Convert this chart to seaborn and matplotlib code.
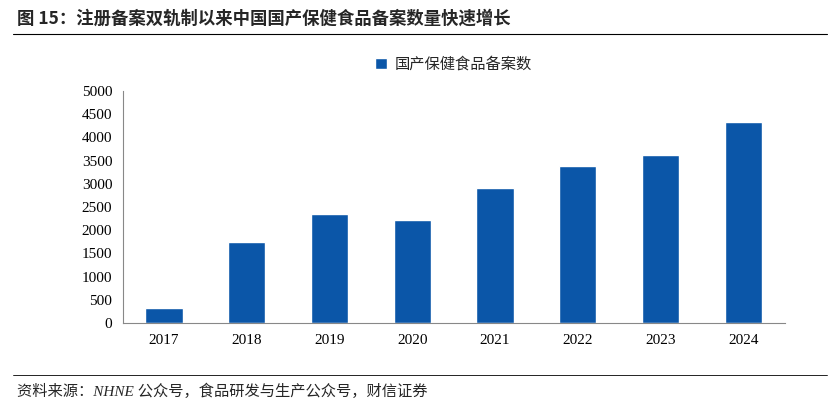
import matplotlib
matplotlib.use("Agg")
import matplotlib.pyplot as plt
import seaborn as sns
import pandas as pd

years = ["2017", "2018", "2019", "2020", "2021", "2022", "2023", "2024"]
counts = [330, 1740, 2350, 2220, 2900, 3380, 3610, 4320]
series_name = "国产保健食品备案数"
title = "图 15：注册备案双轨制以来中国国产保健食品备案数量快速增长"
source = "资料来源：NHNE 公众号，食品研发与生产公众号，财信证券"

sns.set_theme(style="white")
plt.rcParams['font.family'] = ['Liberation Serif', 'Noto Sans CJK SC']

df = pd.DataFrame({"year": years, "count": counts})
fig = plt.figure(figsize=(8.4, 4.05), dpi=100)
ax = fig.add_axes([0.146, 0.2025, 0.788, 0.573])
sns.barplot(data=df, x="year", y="count", color="#0B56A8", width=0.45,
            saturation=1, ax=ax, label=series_name)
ax.set_ylim(0, 5000)
ax.set_yticks(range(0, 5001, 500))
ax.set_xlabel(""); ax.set_ylabel("")
for s in ["top", "right"]:
    ax.spines[s].set_visible(False)
for s in ["left", "bottom"]:
    ax.spines[s].set_color("#888888"); ax.spines[s].set_linewidth(0.8)
ax.tick_params(axis="both", labelsize=11, colors="black", length=4, direction="out", color="#888888")
ax.tick_params(axis="x", length=0, pad=8)
ax.set_xlim(-0.5, 7.5)
leg = ax.legend(loc="upper center", bbox_to_anchor=(0.5, 1.21), frameon=False,
                prop={"family": "Noto Sans CJK SC", "size": 11}, handlelength=0.8, handleheight=0.8,
                handletextpad=0.5)

fig.text(0.02, 0.955, title, fontsize=12.5, fontweight="bold", family=["Noto Sans CJK SC"], va="center")
fig.add_artist(plt.Line2D([0.015, 0.985], [0.915, 0.915], color="black", lw=0.8))
fig.add_artist(plt.Line2D([0.015, 0.985], [0.075, 0.075], color="black", lw=0.6))
fig.text(0.02, 0.035, source, fontsize=11, style="italic", family=["Liberation Serif", "Noto Sans CJK SC"], va="center")
fig.savefig("out.png", dpi=100)
